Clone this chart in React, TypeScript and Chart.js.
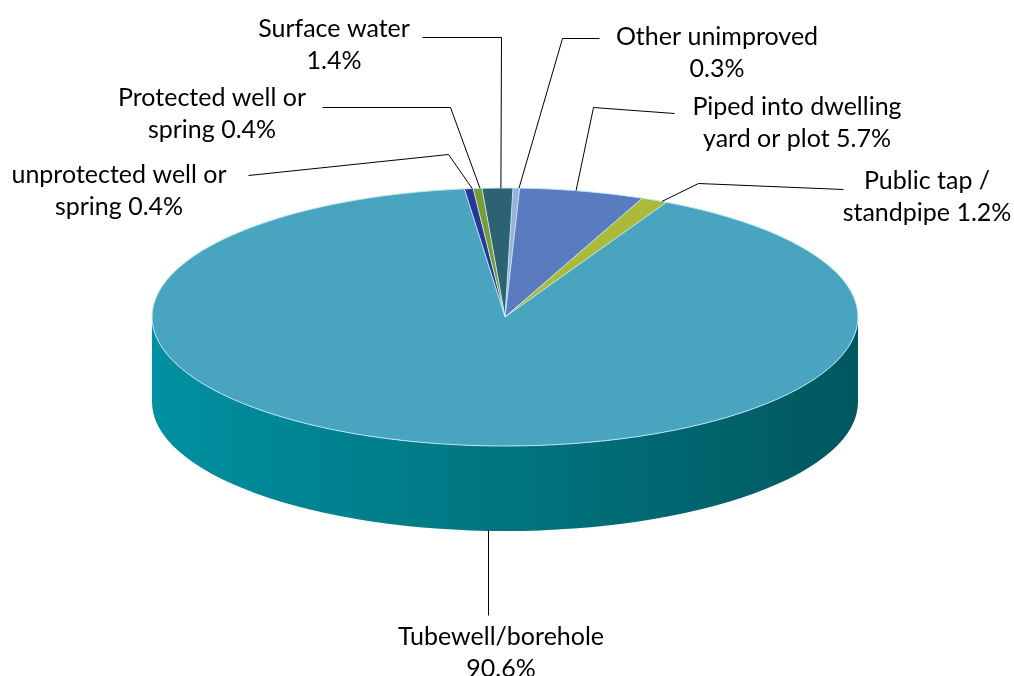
import React, { useEffect, useRef } from "react";
import { Chart, registerables } from "chart.js";

Chart.register(...registerables);

// ---- data ----
const categories = [
  "Other unimproved",
  "Piped into dwelling yard or plot",
  "Public tap / standpipe",
  "Tubewell/borehole",
  "unprotected well or",
  "Protected well or",
  "Surface water",
];
const categoryTails = ["", "", "", "", "spring", "spring", ""];
const shares = [0.3, 5.7, 1.2, 90.6, 0.4, 0.4, 1.4];

// ---- styles / layout ----
const topColors = ["#9BB1DB", "#5A7BBF", "#ACBA3A", "#49A5BF", "#2B3593", "#7C9A34", "#2C6272"];
const sideColors = ["#6F83AC", "#3E5896", "#7F8A22", "gradient", "#1C2470", "#56701F", "#1C4552"];
const GEOM = { cx: 505, cy: 317, rx: 353, ry: 129, depth: 85 };
const FONT = "25px Lato";
const LINE_GAP = 32;

type LabelLayout = {
  frac: number;
  split: number;
  x: number;
  baseline: number;
  elbow: [number, number] | null;
  end: [number, number];
  onSide?: boolean;
};
const labelLayout: LabelLayout[] = [
  { frac: 0.9, split: 2, x: 717, baseline: 45, elbow: [562, 38], end: [599, 38] },
  { frac: 0.45, split: 3, x: 797, baseline: 115, elbow: [593, 107], end: [674, 113] },
  { frac: 0.81, split: 3, x: 927, baseline: 189, elbow: [698, 183], end: [843, 189] },
  { frac: 0.477, split: 1, x: 501, baseline: 645, elbow: null, end: [488, 615], onSide: true },
  { frac: 0.9, split: 3, x: 119, baseline: 183, elbow: [448, 154], end: [248, 175] },
  { frac: 0.78, split: 3, x: 212, baseline: 106, elbow: [450, 107], end: [322, 107] },
  { frac: 0.61, split: 2, x: 334, baseline: 37, elbow: [501, 37], end: [422, 37] },
];

function labelText(i: number): string[] {
  const full = [categories[i], categoryTails[i], shares[i].toFixed(1) + "%"]
    .filter((s) => s.length > 0)
    .join(" ");
  const words = full.split(" ");
  const n = labelLayout[i].split;
  return [words.slice(0, n).join(" "), words.slice(n).join(" ")];
}

function drawSide(ctx: CanvasRenderingContext2D, a0: number, a1: number, fill: string | CanvasGradient) {
  const { cx, cy, rx, ry, depth } = GEOM;
  ctx.beginPath();
  ctx.ellipse(cx, cy, rx, ry, 0, a0, a1, false);
  ctx.ellipse(cx, cy + depth, rx, ry, 0, a1, a0, true);
  ctx.closePath();
  ctx.fillStyle = fill;
  ctx.fill();
}

const pie3d = {
  id: "pie3d",
  beforeDatasetsDraw(chart: any) {
    const ctx: CanvasRenderingContext2D = chart.ctx;
    const arcs = chart.getDatasetMeta(0).data;
    const { cx, cy, rx, ry } = GEOM;
    const grad = ctx.createLinearGradient(cx - rx, 0, cx + rx, 0);
    grad.addColorStop(0, "#0090A1");
    grad.addColorStop(0.5, "#007580");
    grad.addColorStop(1, "#00565E");
    arcs.forEach((arc: any, i: number) => {
      const { startAngle, endAngle } = arc.getProps(["startAngle", "endAngle"], true);
      for (const off of [-2 * Math.PI, 0, 2 * Math.PI]) {
        const a0 = Math.max(startAngle, off);
        const a1 = Math.min(endAngle, off + Math.PI);
        if (a1 > a0) {
          drawSide(ctx, a0 - off, a1 - off, sideColors[i] === "gradient" ? grad : sideColors[i]);
        }
      }
    });
    const a = arcs[0];
    ctx.save();
    ctx.translate(cx, cy);
    ctx.scale(rx / a.outerRadius, ry / a.outerRadius);
    ctx.translate(-a.x, -a.y);
  },
  afterDatasetsDraw(chart: any) {
    const ctx: CanvasRenderingContext2D = chart.ctx;
    ctx.restore();
    const arcs = chart.getDatasetMeta(0).data;
    const { cx, cy, rx, ry, depth } = GEOM;

    // light edges of the top face
    ctx.save();
    ctx.strokeStyle = "rgba(190,232,246,0.95)";
    ctx.lineWidth = 1;
    ctx.beginPath();
    ctx.ellipse(cx, cy, rx, ry, 0, 0, Math.PI * 2);
    ctx.stroke();
    arcs.forEach((arc: any) => {
      const { startAngle } = arc.getProps(["startAngle"], true);
      ctx.beginPath();
      ctx.moveTo(cx, cy);
      ctx.lineTo(cx + rx * Math.cos(startAngle), cy + ry * Math.sin(startAngle));
      ctx.stroke();
    });
    ctx.restore();

    // labels + leader lines
    ctx.save();
    ctx.font = FONT;
    ctx.fillStyle = "#000";
    ctx.textAlign = "center";
    ctx.textBaseline = "alphabetic";
    ctx.strokeStyle = "#000";
    ctx.lineWidth = 1;
    arcs.forEach((arc: any, i: number) => {
      const L = labelLayout[i];
      const { startAngle, endAngle } = arc.getProps(["startAngle", "endAngle"], true);
      const t = startAngle + L.frac * (endAngle - startAngle);
      let ax = cx + rx * Math.cos(t);
      const ay = cy + ry * Math.sin(t) + (L.onSide ? depth : 0);
      if (L.onSide) ax = Math.round(ax) + 0.5;
      ctx.beginPath();
      ctx.moveTo(ax, ay);
      if (L.elbow) ctx.lineTo(L.elbow[0] + 0.5, L.elbow[1] + 0.5);
      ctx.lineTo(L.onSide ? ax : L.end[0] + 0.5, L.end[1] + 0.5);
      ctx.stroke();
      const lines = labelText(i);
      lines.forEach((line, k) => ctx.fillText(line, L.x, L.baseline + k * LINE_GAP));
    });
    ctx.restore();
  },
};

export default function App() {
  const ref = useRef<HTMLCanvasElement | null>(null);
  useEffect(() => {
    if (!ref.current) return;
    const chart = new Chart(ref.current, {
      type: "pie",
      data: {
        labels: categories,
        datasets: [
          {
            data: shares,
            backgroundColor: topColors,
            borderWidth: 0,
            hoverOffset: 0,
            clip: false as any,
          },
        ],
      },
      options: {
        responsive: false,
        animation: false,
        devicePixelRatio: 1,
        events: [],
        rotation: 1.3,
        layout: { padding: 0 },
        plugins: { legend: { display: false }, tooltip: { enabled: false } },
      },
      plugins: [pie3d as any],
    });
    return () => chart.destroy();
  }, []);
  return (
    <div style={{ position: "absolute", left: 0, top: 0, width: 1014, height: 676, background: "#fff" }}>
      <canvas ref={ref} width={1014} height={676} style={{ display: "block" }} />
    </div>
  );
}
